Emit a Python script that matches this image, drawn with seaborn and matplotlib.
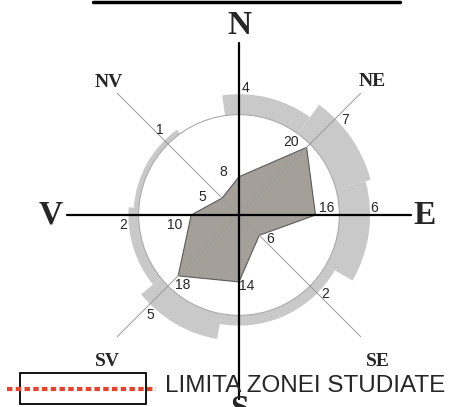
import numpy as np
import pandas as pd
import seaborn as sns
import matplotlib.pyplot as plt
from matplotlib.patches import Wedge, Circle, Rectangle
from matplotlib.lines import Line2D

# wind directions (romanian), clockwise from north
directions = ['N', 'NE', 'E', 'SE', 'S', 'SV', 'V', 'NV']
bearings = [0, 45, 90, 135, 180, 225, 270, 315]

# inner polygon values
inner_values = [8, 20, 16, 6, 14, 18, 10, 5]

# outer ring values and their printed labels (S has no label)
ring_values = [4, 7, 6, 2, 2, 5, 2, 1]
ring_labels = ['4', '7', '6', '2', '', '5', '2', '1']
# the ring sectors are hand drawn, not centred on the directions
ring_start = [-8, 36, 75, 120, 158, 190, 231, 274]
ring_end = [36, 75, 120, 158, 190, 231, 274, 324]

legend_text = 'LIMITA ZONEI STUDIATE'

# layout
W, H = 475, 407
CX, CY = 239, 215      # centre of the rose in pixels
PX = 4.78              # pixels per unit
R0 = 21                # radius of the base circle
K = 1.07               # ring thickness per unit
AXIS_LEN = 36

ring_color = '#c9c9c9'
poly_color = '#a49f99'

sns.set_style('white')

fig = plt.figure(figsize=(W / 100, H / 100), dpi=100)
ax = fig.add_axes([0, 0, 1, 1])
ax.set_xlim(-CX / PX, (W - CX) / PX)
ax.set_ylim(-(H - CY) / PX, CY / PX)
ax.axis('off')


def px2d(px, py):
    return (px - CX) / PX, (CY - py) / PX


theta = np.radians(bearings)

# outer ring
for v, a1, a2 in zip(ring_values, ring_start, ring_end):
    ax.add_patch(Wedge((0, 0), R0 + K * v, 90 - a2, 90 - a1, width=K * v,
                       facecolor=ring_color, edgecolor='none', zorder=1))
ax.add_patch(Circle((0, 0), R0, fill=False, ec='#ababab', lw=0.8, zorder=1.5))

# inner polygon
df = pd.DataFrame({'x': np.array(inner_values) * np.sin(theta),
                   'y': np.array(inner_values) * np.cos(theta)})
df = pd.concat([df, df.iloc[:1]], ignore_index=True)
ax.fill(df['x'], df['y'], color=poly_color, zorder=2, lw=0)
sns.lineplot(data=df, x='x', y='y', sort=False, estimator=None,
             color='#5a5a5a', lw=0.8, ax=ax, zorder=3)

# diagonal guide lines
for b in [45, 135]:
    t = np.radians(b)
    ax.plot([-AXIS_LEN * np.sin(t), AXIS_LEN * np.sin(t)],
            [-AXIS_LEN * np.cos(t), AXIS_LEN * np.cos(t)],
            color='#9a9a9a', lw=0.7, zorder=4)

# main cross
ax.plot([-AXIS_LEN, AXIS_LEN], [0, 0], color='black', lw=1.6, zorder=5)
ax.plot([0, 0], [AXIS_LEN, -38.5], color='black', lw=1.6, zorder=5)

# value labels of the polygon
inner_off = [(-16, 5), (-16, 5), (11, 7), (11, -4), (8, -4), (5, -9), (-17, -10), (-20, 1)]
for v, t, (dx, dy) in zip(inner_values, theta, inner_off):
    ax.annotate(str(v), xy=(v * np.sin(t), v * np.cos(t)), xytext=(dx, dy),
                textcoords='offset pixels', ha='center', va='center',
                fontsize=10, family='Liberation Sans', zorder=6)

# value labels of the ring
ring_off = [(7, -1), (5, -6), (-3, 7), (3, 4), (0, 0), (5, -6), (2, -10), (0, 5)]
for v, lab, t, (dx, dy) in zip(ring_values, ring_labels, theta, ring_off):
    r = R0 + K * v + 7 / PX
    ax.annotate(lab, xy=(r * np.sin(t), r * np.cos(t)), xytext=(dx, dy),
                textcoords='offset pixels', ha='center', va='center',
                fontsize=10, family='Liberation Sans', zorder=6)

# compass letters
letter_r = [39.7, 39.4, 38.9, 42.2, 40.6, 41.2, 39.3, 38.8]
letter_b = [0, 45, 90, 136.4, 180, 222.1, 270, 315.4]
for name, r, b in zip(directions, letter_r, letter_b):
    t = np.radians(b)
    size = 24 if len(name) == 1 else 14
    ax.text(r * np.sin(t), r * np.cos(t), name, ha='center', va='center',
            fontsize=size, fontweight='bold', family='Liberation Serif', zorder=6)

# legend: study area limit
x0, y0 = px2d(20, 404)
x1, y1 = px2d(146, 373)
ax.add_patch(Rectangle((x0, y0), x1 - x0, y1 - y0, fill=False, ec='black', lw=1.3, zorder=6))
lx0, ly = px2d(7, 389)
lx1, _ = px2d(156, 389)
ax.plot([lx0, lx1], [ly, ly], color='#e8412c', lw=3, dashes=(1.3, 0.8), zorder=7)
tx, ty = px2d(165, 386)
ax.text(tx, ty, legend_text, ha='left', va='center', fontsize=17.5,
        family='Liberation Sans', zorder=7)

# top border fragment
fig.add_artist(Line2D([93 / W, 400 / W], [1 - 1.5 / H, 1 - 1.5 / H],
                      color='black', lw=2.5))

fig.savefig('out.png', dpi=100)
